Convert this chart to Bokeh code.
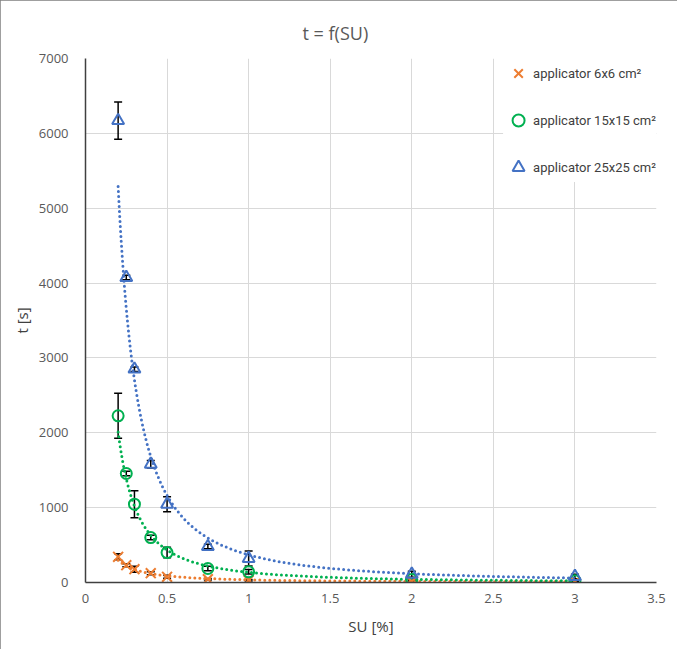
import numpy as np
from bokeh.plotting import figure
from bokeh.models import (ColumnDataSource, Whisker, TeeHead, FixedTicker,
                          Legend, LegendItem, CustomJSTickFormatter)
from bokeh.embed import file_html
from bokeh.resources import INLINE

# ---- data ----
su = [0.2, 0.25, 0.3, 0.4, 0.5, 0.75, 1, 2, 3]
t_6x6 = [343, 232, 178, 125, 76, 45, 30, 15, 10]
t_6x6_err = [40, 20, 40, 20, 20, 10, 10, 5, 5]
t_15x15 = [2227, 1456, 1046, 600, 400, 187, 142, 40, 25]
t_15x15_err = [300, 30, 180, 30, 70, 30, 30, 10, 10]
t_25x25 = [6170, 4075, 2850, 1580, 1046, 480, 320, 110, 80]
t_25x25_err = [250, 30, 30, 50, 100, 30, 100, 40, 30]
x_ticks = [0, 0.5, 1, 1.5, 2, 2.5, 3, 3.5]
y_ticks = [0, 1000, 2000, 3000, 4000, 5000, 6000, 7000]
labels = ["applicator 6x6 cm\u00b2", "applicator 15x15 cm\u00b2", "applicator 25x25 cm\u00b2"]
colors = ["#ED7D31", "#00B050", "#4472C4"]

TXT = "#595959"

p = figure(width=677, height=649, x_range=(0, 3.5), y_range=(0, 7000),
           output_backend="svg", toolbar_location=None,
           min_border_left=85, min_border_right=21, min_border_top=58, min_border_bottom=67,
           background_fill_color="white", border_fill_color="white")
p.styles = {"outline": "1px solid #7f7f7f", "outline-offset": "-1px"}
p.outline_line_color = None

p.title.text = "t = f(SU)"
p.title.align = "left"
p.title.offset = 217
p.title.text_font = "Open Sans"
p.title.text_font_size = "18px"
p.title.text_font_style = "normal"
p.title.text_color = TXT
p.title.standoff = 27

# grid
p.xgrid.ticker = FixedTicker(ticks=x_ticks)
p.ygrid.ticker = FixedTicker(ticks=y_ticks)
p.grid.grid_line_color = "#d9d9d9"
p.grid.grid_line_width = 1

# axes
p.xaxis.ticker = FixedTicker(ticks=x_ticks)
p.yaxis.ticker = FixedTicker(ticks=y_ticks)
p.xaxis.formatter = CustomJSTickFormatter(code="return tick.toString();")
for ax in (p.xaxis[0], p.yaxis[0]):
    ax.axis_line_color = "#404040"
    ax.axis_line_width = 1.5
    ax.major_tick_line_color = None
    ax.minor_tick_line_color = None
    ax.major_label_text_font = "Open Sans"
    ax.major_label_text_font_size = "13px"
    ax.major_label_text_color = TXT
    ax.axis_label_text_font = "Open Sans"
    ax.axis_label_text_font_size = "15px"
    ax.axis_label_text_font_style = "normal"
    ax.axis_label_text_color = "#404040"
p.xaxis.axis_label = "SU [%]"
p.yaxis.axis_label = "t [s]"
p.xaxis.major_label_standoff = 5
p.yaxis.major_label_standoff = 11
p.xaxis.axis_label_standoff = 10
p.yaxis.axis_label_standoff = 4

# trendlines (power fit)
xs = np.linspace(min(su), max(su), 300)
series = [t_6x6, t_15x15, t_25x25]
errs = [t_6x6_err, t_15x15_err, t_25x25_err]
for vals, c in zip(series, colors):
    b, a = np.polyfit(np.log(su), np.log(vals), 1)
    ys = np.exp(a) * xs ** b
    p.line(xs, ys, line_color=c, line_width=3, line_dash="0 5", line_cap="round")

# error bars + markers
renderers = []
markers = ["x", "circle", "triangle"]
sizes = [14, 11, 12]
for vals, e, c, m, s in zip(series, errs, colors, markers, sizes):
    src = ColumnDataSource(dict(x=su, y=vals,
                                lo=[v - d for v, d in zip(vals, e)],
                                hi=[v + d for v, d in zip(vals, e)]))
    w = Whisker(source=src, base="x", lower="lo", upper="hi",
                line_color="black", line_width=1.5,
                upper_head=TeeHead(size=8, line_color="black", line_width=1.5),
                lower_head=TeeHead(size=8, line_color="black", line_width=1.5))
    p.add_layout(w)
    if m == "x":
        r = p.scatter("x", "y", source=src, marker=m, size=s, line_color=c, line_width=2)
    else:
        r = p.scatter("x", "y", source=src, marker=m, size=s, line_color=c,
                      fill_color=None, line_width=2)
    renderers.append(r)

legend = Legend(items=[LegendItem(label=l, renderers=[r]) for l, r in zip(labels, renderers)],
                location="top_right", border_line_color=None, background_fill_color="white",
                background_fill_alpha=1.0, label_text_font="Roboto",
                label_text_font_size="13px", label_text_color="#404040",
                spacing=17, padding=0, margin=0, glyph_width=30, glyph_height=30,
                label_standoff=0, label_height=30)
p.add_layout(legend)

open("out.html", "w").write(file_html(p, INLINE))
